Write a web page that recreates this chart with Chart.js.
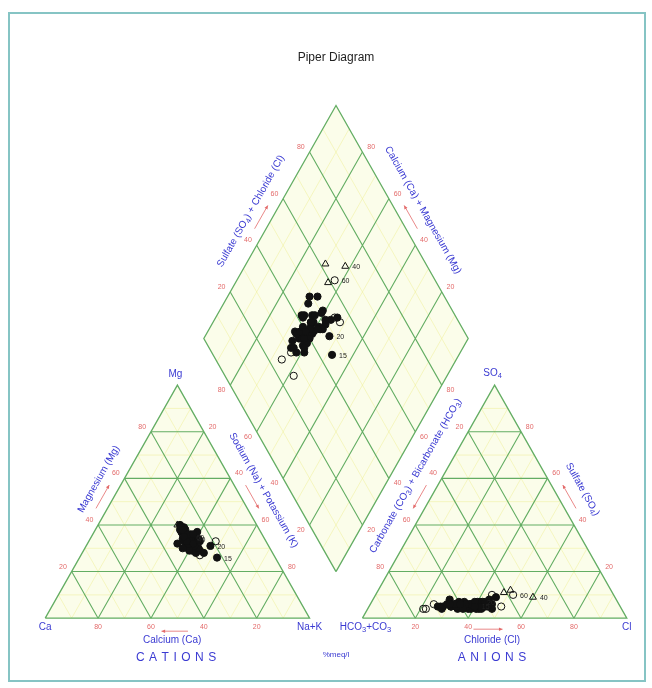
<!DOCTYPE html>
<html><head><meta charset="utf-8">
<script src="https://cdn.jsdelivr.net/npm/chart.js@4/dist/chart.umd.min.js"></script>
<style>
html,body{margin:0;padding:0;background:#fff;}
#wrap{position:relative;width:652px;height:688px;overflow:hidden;}
#frame{position:absolute;left:8px;top:12px;width:638px;height:670px;border:2px solid #86c4c4;box-sizing:border-box;pointer-events:none;}
canvas{position:absolute;left:0;top:0;}
</style></head><body>
<div id="wrap"><canvas id="c" width="652" height="688"></canvas><div id="frame"></div></div>
<script>
// ---------------- DATA (percent meq/l) ----------------
const sampleIds  = [1,2,3,4,5,6,7,8,9,10,11,12,13,14,15,16,17,18,19,20,21,22,23,24,25,26,27,28,29,30,31,32,33,34,35,36,37,38,39,40,41,42,43,44,45,46,47,48,49,50,51,52,53,54,55,56,57,58,59,60];
const mgPct      = [33,35,31,38,30,34,36,29,32,37,40,33,28,35,26,34,31,36,39,31,33,37,32,35,38,29,34,31,36,33,40,27,35,32,30,37,34,31,39,34,36,28,32,35,34,38,30,33,31,36,33,29,35,37,32,34,30,36,33,35];
const nakPct     = [38,36,40,34,42,37,35,41,39,33,31,36,43,38,52,37,40,35,33,47,39,34,38,36,32,44,35,42,37,40,30,45,39,36,43,35,38,41,32,38,34,46,40,37,36,33,39,48,38,36,37,40,35,39,34,41,37,38,42,37];
const so4Pct     = [5,6,4,5,6,7,5,4,6,5,7,4,5,6,5,8,4,6,5,7,5,6,4,5,7,6,5,4,6,5,12,10,5,6,4,11,5,6,7,9,4,9,5,6,5,6,4,5,6,7,5,6,4,5,8,5,6,4,7,10];
const clPct      = [35,30,38,28,40,33,26,42,36,31,42,34,44,37,40,29,39,32,38,41,36,30,41,34,40,46,33,22,38,35,50,44,31,24,43,48,37,29,35,60,21,46,33,38,27,36,47,50,32,39,42,30,36,45,44,40,34,28,43,52];
const markerType = ['f','f','f','f','f','f','f','f','f','f','f','f','f','f','f','f','f','f','f','f','f','f','f','f','f','f','f','o','f','f','t','o','f','o','f','t','f','f','f','t','o','f','f','f','f','f','f','o','f','f','f','f','f','f','f','f','f','f','f','o'];
const labelledIds = [15,20,40,60];
const tickValues  = [20,40,60,80];
const minorValues = [10,30,50,70,90];

// ---------------- GEOMETRY (ternary -> x,y) ----------------
const H = Math.sqrt(3)/2;
const ANION_X = 120, DIA_X = 110;
function triPt(ox, apex, right){ return {x: ox + right + apex/2, y: H*apex}; }
function diaPt(camg, so4cl){ return {x: DIA_X + (so4cl - camg)/2, y: H*(20 + camg + so4cl)}; }
const GAP = {x: NaN, y: NaN};

function triGrid(ox, lv){
  const p = [];
  lv.forEach(k => {
    p.push(triPt(ox,k,0), triPt(ox,k,100-k), GAP);
    p.push(triPt(ox,0,k), triPt(ox,100-k,k), GAP);
    p.push(triPt(ox,0,100-k), triPt(ox,100-k,0), GAP);
  });
  return p;
}
function diaGrid(lv){
  const p = [];
  lv.forEach(k => {
    p.push(diaPt(k,0), diaPt(k,100), GAP);
    p.push(diaPt(0,k), diaPt(100,k), GAP);
  });
  return p;
}
function triOutline(ox){ return [triPt(ox,0,0), triPt(ox,0,100), triPt(ox,100,0), triPt(ox,0,0)]; }
const diaOutline = [diaPt(0,0), diaPt(100,0), diaPt(100,100), diaPt(0,100), diaPt(0,0)];

const catPts = mgPct.map((m,i) => triPt(0, m, nakPct[i]));
const anPts  = so4Pct.map((s,i) => triPt(ANION_X, s, clPct[i]));
const diaPts = nakPct.map((n,i) => diaPt(100 - n, so4Pct[i] + clPct[i]));

const GREEN = '#63ad63', MINOR = 'rgba(238,238,140,0.45)', RED = '#e36a6a', BLUE = '#3a3ad2';
const FONT = '"Liberation Sans", Arial, sans-serif';

function lineDS(data, color, width, order){
  return {data, showLine:true, pointRadius:0, pointHoverRadius:0, borderColor:color, borderWidth:width, spanGaps:false, fill:false, order};
}
function pointDS(data){
  return {data, showLine:false, order:0,
    pointStyle: markerType.map(t => t==='t' ? 'triangle' : 'circle'),
    pointRadius: markerType.map(t => t==='t' ? 4 : 3.6),
    pointBackgroundColor: markerType.map(t => t==='f' ? '#111' : 'rgba(255,255,255,0)'),
    pointBorderColor: '#111', pointBorderWidth: 1};
}

// ---------------- PLUGINS ----------------
function P(c, p){ return {x: c.scales.x.getPixelForValue(p.x), y: c.scales.y.getPixelForValue(p.y)}; }

const shapeFill = {
  id:'shapeFill',
  beforeDatasetsDraw(c){
    const ctx = c.ctx;
    ctx.save();
    ctx.fillStyle = 'rgba(251,253,234,1)';
    [triOutline(0), triOutline(ANION_X), diaOutline].forEach(poly => {
      ctx.beginPath();
      poly.forEach((q,i) => { const p = P(c,q); i ? ctx.lineTo(p.x,p.y) : ctx.moveTo(p.x,p.y); });
      ctx.closePath(); ctx.fill();
    });
    ctx.restore();
  }
};

function edgeInfo(c, a, b, t, center){
  const pa = P(c,a), pb = P(c,b), pc = P(c,center);
  const L = Math.hypot(pb.x-pa.x, pb.y-pa.y);
  const d = {x:(pb.x-pa.x)/L, y:(pb.y-pa.y)/L};
  let n = {x:-d.y, y:d.x};
  const m = {x: pa.x + t*(pb.x-pa.x), y: pa.y + t*(pb.y-pa.y)};
  if ((m.x-pc.x)*n.x + (m.y-pc.y)*n.y < 0) n = {x:-n.x, y:-n.y};
  let ang = Math.atan2(d.y, d.x);
  if (ang > Math.PI/2) ang -= Math.PI; if (ang < -Math.PI/2) ang += Math.PI;
  return {m, d, n, ang};
}
function drawText(ctx, s, x, y, size, color, ang, spacing){
  ctx.save(); ctx.translate(x,y); ctx.rotate(ang||0);
  ctx.font = size + 'px ' + FONT; ctx.fillStyle = color;
  ctx.textBaseline = 'middle';
  if (spacing){
    const ws = [...s].map(ch => ctx.measureText(ch).width);
    const tot = ws.reduce((a,b)=>a+b,0) + spacing*(s.length-1);
    let cx = -tot/2; ctx.textAlign = 'left';
    [...s].forEach((ch,i) => { ctx.fillText(ch, cx, 0); cx += ws[i] + spacing; });
  } else { ctx.textAlign = 'center'; ctx.fillText(s, 0, 0); }
  ctx.restore();
}
function drawRich(ctx, parts, x, y, size, color, ang){
  ctx.save(); ctx.translate(x,y); ctx.rotate(ang||0); ctx.fillStyle = color; ctx.textBaseline = 'middle'; ctx.textAlign='left';
  const fs = p => (p[1] ? size*0.75 : size) + 'px ' + FONT;
  let tot = 0; parts.forEach(p => { ctx.font = fs(p); tot += ctx.measureText(p[0]).width; });
  let cx = -tot/2;
  parts.forEach(p => { ctx.font = fs(p); ctx.fillText(p[0], cx, p[1] ? size*0.3 : 0); cx += ctx.measureText(p[0]).width; });
  ctx.restore();
}
function arrow(ctx, x0, y0, x1, y1){
  ctx.save(); ctx.strokeStyle = RED; ctx.fillStyle = RED; ctx.lineWidth = 0.8;
  ctx.beginPath(); ctx.moveTo(x0,y0); ctx.lineTo(x1,y1); ctx.stroke();
  const a = Math.atan2(y1-y0, x1-x0), h = 4;
  ctx.beginPath(); ctx.moveTo(x1,y1);
  ctx.lineTo(x1 - h*Math.cos(a-0.45), y1 - h*Math.sin(a-0.45));
  ctx.lineTo(x1 - h*Math.cos(a+0.45), y1 - h*Math.sin(a+0.45));
  ctx.closePath(); ctx.fill(); ctx.restore();
}

const CAT_C = triPt(0,33,33), AN_C = triPt(ANION_X,33,33), DIA_C = diaPt(50,50);
const edges = [
  {a:triPt(0,0,0), b:triPt(0,0,100), c:CAT_C, ticks:['80','60','40','20'], off:9},
  {a:triPt(0,0,0), b:triPt(0,100,0), c:CAT_C, ticks:['20','40','60','80'], off:10, title:'Magnesium (Mg)', tt:0.55, to:22, arr:1},
  {a:triPt(0,100,0), b:triPt(0,0,100), c:CAT_C, ticks:['20','40','60','80'], off:10, title:'Sodium (Na) + Potassium (K)', tt:0.5, to:23, arr:1},
  {a:triPt(ANION_X,0,0), b:triPt(ANION_X,0,100), c:AN_C, ticks:['20','40','60','80'], off:9},
  {a:triPt(ANION_X,0,0), b:triPt(ANION_X,100,0), c:AN_C, ticks:['80','60','40','20'], off:10, rich:[['Carbonate (CO',0],['3',1],[') + Bicarbonate (HCO',0],['3',1],[')',0]], tt:0.56, to:24, arr:-1},
  {a:triPt(ANION_X,100,0), b:triPt(ANION_X,0,100), c:AN_C, ticks:['80','60','40','20'], off:10, rich:[['Sulfate (SO',0],['4',1],[')',0]], tt:0.5, to:25, arr:-1},
  {a:diaPt(100,0), b:diaPt(100,100), c:DIA_C, ticks:['20','40','60','80'], off:10, rich:[['Sulfate (SO',0],['4',1],[') + Chloride (Cl)',0]], tt:0.5, to:22, arr:1},
  {a:diaPt(100,100), b:diaPt(0,100), c:DIA_C, ticks:['80','60','40','20'], off:10, title:'Calcium (Ca) + Magnesium (Mg)', tt:0.5, to:24, arr:-1},
  {a:diaPt(0,0), b:diaPt(100,0), c:DIA_C, ticks:['20','40','60','80'], off:10},
  {a:diaPt(0,0), b:diaPt(0,100), c:DIA_C, ticks:['20','40','60','80'], off:10}
];

const textPlugin = {
  id:'piperText',
  afterDatasetsDraw(c){
    const ctx = c.ctx;
    edges.forEach(e => {
      e.ticks.forEach((s,i) => {
        const t = 0.2*(i+1), g = edgeInfo(c, e.a, e.b, t, e.c);
        drawText(ctx, s, g.m.x + g.n.x*e.off, g.m.y + g.n.y*e.off, 7, RED, 0);
      });
      if (e.title || e.rich){
        const g = edgeInfo(c, e.a, e.b, e.tt, e.c);
        const x = g.m.x + g.n.x*e.to, y = g.m.y + g.n.y*e.to;
        if (e.rich) drawRich(ctx, e.rich, x, y, 10, BLUE, g.ang); else drawText(ctx, e.title, x, y, 10, BLUE, g.ang);
      }
      if (e.arr){
        const g0 = edgeInfo(c, e.a, e.b, 0.45, e.c), g1 = edgeInfo(c, e.a, e.b, 0.55, e.c);
        const o = e.off;
        const p0 = {x:g0.m.x+g0.n.x*o, y:g0.m.y+g0.n.y*o}, p1 = {x:g1.m.x+g1.n.x*o, y:g1.m.y+g1.n.y*o};
        if (e.arr > 0) arrow(ctx, p0.x,p0.y,p1.x,p1.y); else arrow(ctx, p1.x,p1.y,p0.x,p0.y);
      }
    });
    const v = q => P(c,q);
    let p = v(triPt(0,0,0));   drawText(ctx,'Ca', p.x, p.y+9, 10, BLUE, 0);
    p = v(triPt(0,0,100));     drawText(ctx,'Na+K', p.x, p.y+9, 10, BLUE, 0);
    p = v(triPt(0,100,0));     drawText(ctx,'Mg', p.x-2, p.y-11, 10, BLUE, 0);
    p = v(triPt(ANION_X,0,0)); drawRich(ctx, [['HCO',0],['3',1],['+CO',0],['3',1]], p.x+3, p.y+9, 10, BLUE, 0);
    p = v(triPt(ANION_X,0,100)); drawText(ctx,'Cl', p.x, p.y+9, 10, BLUE, 0);
    p = v(triPt(ANION_X,100,0)); drawRich(ctx, [['SO',0],['4',1]], p.x-2, p.y-12, 10, BLUE, 0);
    const cb = v(triPt(0,0,48)), ab = v(triPt(ANION_X,0,49));
    drawText(ctx,'Calcium (Ca)', cb.x, cb.y+22, 10, BLUE, 0);
    drawText(ctx,'CATIONS', cb.x+4, cb.y+40, 12, BLUE, 0, 4.5);
    drawText(ctx,'Chloride (Cl)', ab.x, ab.y+22, 10, BLUE, 0);
    drawText(ctx,'ANIONS', ab.x, ab.y+40, 12, BLUE, 0, 4.5);
    arrow(ctx, v(triPt(0,0,54)).x, cb.y+13, v(triPt(0,0,44)).x, cb.y+13);
    arrow(ctx, v(triPt(ANION_X,0,42)).x, ab.y+11, v(triPt(ANION_X,0,53)).x, ab.y+11);
    const mid = v({x:DIA_X, y:0});
    drawText(ctx,'%meq/l', mid.x, mid.y+37, 8, BLUE, 0);
    ctx.save(); ctx.font = '7px ' + FONT; ctx.fillStyle = '#222'; ctx.textBaseline='middle'; ctx.textAlign='left';
    sampleIds.forEach((id,i) => {
      if (!labelledIds.includes(id)) return;
      [catPts[i], anPts[i], diaPts[i]].forEach(q => { const pp = v(q); ctx.fillText(String(id), pp.x+7, pp.y+1); });
    });
    ctx.restore();
  }
};

new Chart(document.getElementById('c'), {
  type:'scatter',
  data:{datasets:[
    pointDS(catPts), pointDS(anPts), pointDS(diaPts),
    lineDS(triOutline(0), GREEN, 1.3, 3), lineDS(triOutline(ANION_X), GREEN, 1.3, 3), lineDS(diaOutline, GREEN, 1.3, 3),
    lineDS(triGrid(0, tickValues), GREEN, 1.1, 4), lineDS(triGrid(ANION_X, tickValues), GREEN, 1.1, 4), lineDS(diaGrid(tickValues), GREEN, 1.1, 4),
    lineDS(triGrid(0, minorValues), MINOR, 1, 8), lineDS(triGrid(ANION_X, minorValues), MINOR, 1, 8), lineDS(diaGrid(minorValues), MINOR, 1, 8)
  ]},
  options:{
    responsive:false, animation:false, devicePixelRatio:1,
    layout:{padding:{left:32, right:12, top:50, bottom:16}},
    scales:{
      x:{type:'linear', min:-5, max:225, display:false},
      y:{type:'linear', min:-20, max:200, display:false}
    },
    plugins:{
      legend:{display:false}, tooltip:{enabled:false},
      title:{display:true, text:'Piper Diagram', color:'#222', font:{family:FONT, size:12, weight:'normal'}, padding:{top:0, bottom:15.6}}
    }
  },
  plugins:[shapeFill, textPlugin]
});
</script>
</body></html>
